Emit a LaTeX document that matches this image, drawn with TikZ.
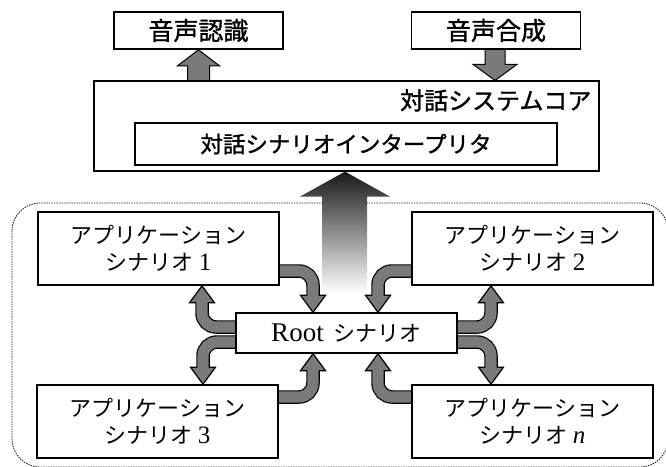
\documentclass[tikz,border=0pt]{standalone}
\usepackage{fontspec}
\setmainfont{Liberation Serif}
\newfontfamily\jp{Noto Sans CJK JP}
\newfontfamily\jpb{Noto Sans CJK JP}[FakeBold=1.2]
\newfontfamily\tm{Liberation Serif}
\usetikzlibrary{calc}
\pgfdeclarelayer{bg}
\pgfsetlayers{bg,main}
\definecolor{arrowgray}{gray}{0.48}
\newcommand\scnum[1]{{\tm\fontsize{25}{27}\selectfont #1}}
\newcommand\bendarrow[3]{%
  \begin{pgfonlayer}{bg}
    \coordinate (hb) at ($(#2)+(0,#3)$);
    \coordinate (hx) at ($(#2)+(0,#3*0.88)$);
    \draw[line width=13.5pt, black, rounded corners=14pt] (#1) -| (hb);
    \filldraw[fill=arrowgray, draw=black, line width=1.2pt, line join=miter]
      ($(hb)+(-12.5,0)$) -- ($(hb)+(12.5,0)$) -- (#2) -- cycle;
    \draw[line width=11.1pt, arrowgray, rounded corners=14pt] (#1) -| (hx);
  \end{pgfonlayer}}
\begin{document}
\begin{tikzpicture}[x=1pt,y=-1pt,
  box/.style={draw=black, line width=1.6pt, fill=white, inner sep=0pt, align=center},
  topbox/.style={box, minimum width=169pt, minimum height=37pt, font=\jpb\fontsize{25}{28}\selectfont},
  appbox/.style={box, minimum width=241pt, minimum height=73pt, font=\jp\fontsize{22}{27}\selectfont},
  dashframe/.style={draw=black!85, line width=0.9pt, dash pattern=on 1.5pt off 1pt, rounded corners=28pt},
  solidarrow/.style={fill=arrowgray, draw=black, line width=1pt, line join=miter}]
\useasboundingbox (0,0) rectangle (666,466);

% frame
\begin{pgfonlayer}{bg}
  \draw[dashframe] (12,203) rectangle (668,467);
\end{pgfonlayer}

% boxes
\node[topbox] (asr) at (198.5,30.5) {音声認識};
\node[topbox] (tts) at (496,30.5) {音声合成};
\node[box, line width=1.2pt, minimum width=505pt, minimum height=90pt] (core) at (346.5,126) {};
\node[font=\jpb\fontsize{24}{28}\selectfont, anchor=east, inner sep=0pt] (corelabel)
  at ([xshift=-8pt,yshift=-20pt]core.north east) {対話システムコア};
\node[box, minimum width=422pt, minimum height=42pt, font=\jpb\fontsize{22.5}{27}\selectfont] (interp)
  at (346,144) {対話シナリオインタープリタ};

\node[appbox] (app1) at (158.5,248.5) {アプリケーション\\シナリオ\hspace{5pt}\scnum{1}};
\node[appbox] (app2) at (532.5,248.5) {アプリケーション\\シナリオ\hspace{5pt}\scnum{2}};
\node[appbox] (app3) at (157.5,421.5) {アプリケーション\\シナリオ\hspace{5pt}\scnum{3}};
\node[appbox] (appn) at (532.5,421.5) {アプリケーション\\シナリオ\hspace{5pt}\scnum{\itshape n}};
\node[box, line width=1.4pt, minimum width=221pt, minimum height=40pt, font=\jp\fontsize{22}{27}\selectfont] (root)
  at (346.5,333) {{\tm\fontsize{27}{28}\selectfont Root}\hspace{10pt}シナリオ};

% top arrows
\begin{pgfonlayer}{bg}
  \coordinate (ta) at (asr.south);
  \filldraw[solidarrow] ($(ta)+(-11,32)$) -- ($(ta)+(-11,16)$) -- ($(ta)+(-21,16)$) -- (ta)
    -- ($(ta)+(21,16)$) -- ($(ta)+(11,16)$) -- ($(ta)+(11,32)$);
  \coordinate (tb) at ([xshift=148.5pt]core.north);
  \filldraw[solidarrow] ($(tb)+(-10,-32)$) -- ($(tb)+(-10,-16)$) -- ($(tb)+(-22,-16)$) -- (tb)
    -- ($(tb)+(22,-16)$) -- ($(tb)+(10,-16)$) -- ($(tb)+(10,-32)$);
  % big gradient arrow
  \coordinate (tc) at ([xshift=-1.5pt]core.south);
  \shade[top color=black!90, middle color=black!60, bottom color=white]
    (tc) -- ($(tc)+(45,25)$) -- ($(tc)+(22,25)$) -- ($(tc)+(22,121)$)
    -- ($(tc)+(-23,121)$) -- ($(tc)+(-23,25)$) -- ($(tc)+(-45,25)$) -- cycle;
\end{pgfonlayer}

% curved arrows
\coordinate (s1) at ([yshift=-22.5pt]app1.east);
\coordinate (t1) at ([xshift=-33.5pt]root.north);
\bendarrow{s1}{t1}{-17}
\coordinate (s2) at ([yshift=6pt]root.west);
\coordinate (t2) at ([xshift=43.5pt]app1.south);
\bendarrow{s2}{t2}{17}
\coordinate (s3) at ([yshift=-9pt]root.west);
\coordinate (t3) at ([xshift=45.5pt]app3.north);
\bendarrow{s3}{t3}{-17}
\coordinate (s4) at ([yshift=24.5pt]app3.east);
\coordinate (t4) at ([xshift=-33.5pt]root.south);
\bendarrow{s4}{t4}{17}
\coordinate (s5) at ([yshift=-22.5pt]app2.west);
\coordinate (t5) at ([xshift=31.5pt]root.north);
\bendarrow{s5}{t5}{-17}
\coordinate (s6) at ([yshift=6pt]root.east);
\coordinate (t6) at ([xshift=-41.5pt]app2.south);
\bendarrow{s6}{t6}{17}
\coordinate (s7) at ([yshift=-9pt]root.east);
\coordinate (t7) at ([xshift=-41.5pt]appn.north);
\bendarrow{s7}{t7}{-17}
\coordinate (s8) at ([yshift=24.5pt]appn.west);
\coordinate (t8) at ([xshift=31.5pt]root.south);
\bendarrow{s8}{t8}{17}
\end{tikzpicture}
\end{document}
